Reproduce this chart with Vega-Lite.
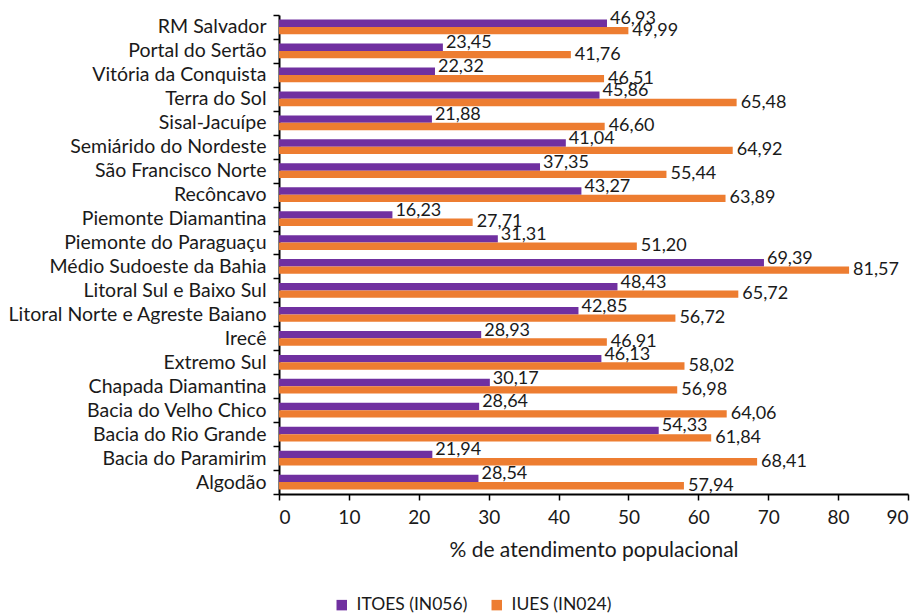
{
  "$schema": "https://vega.github.io/schema/vega-lite/v6.json",
  "width": 629,
  "height": 479,
  "autosize": {"type": "none"},
  "padding": {"left": 279, "top": 15, "right": 14, "bottom": 121},
  "config": {
    "locale": {"number": {"decimal": ",", "thousands": ".", "grouping": [3], "currency": ["R$", ""]}},
    "view": {"stroke": null},
    "font": "Lato",
    "text": {"font": "Lato"}
  },
  "data": {
    "values": [
      {"regiao": "RM Salvador", "serie": "ITOES (IN056)", "valor": 46.93},
      {"regiao": "RM Salvador", "serie": "IUES (IN024)", "valor": 49.99},
      {"regiao": "Portal do Sertão", "serie": "ITOES (IN056)", "valor": 23.45},
      {"regiao": "Portal do Sertão", "serie": "IUES (IN024)", "valor": 41.76},
      {"regiao": "Vitória da Conquista", "serie": "ITOES (IN056)", "valor": 22.32},
      {"regiao": "Vitória da Conquista", "serie": "IUES (IN024)", "valor": 46.51},
      {"regiao": "Terra do Sol", "serie": "ITOES (IN056)", "valor": 45.86},
      {"regiao": "Terra do Sol", "serie": "IUES (IN024)", "valor": 65.48},
      {"regiao": "Sisal-Jacuípe", "serie": "ITOES (IN056)", "valor": 21.88},
      {"regiao": "Sisal-Jacuípe", "serie": "IUES (IN024)", "valor": 46.60},
      {"regiao": "Semiárido do Nordeste", "serie": "ITOES (IN056)", "valor": 41.04},
      {"regiao": "Semiárido do Nordeste", "serie": "IUES (IN024)", "valor": 64.92},
      {"regiao": "São Francisco Norte", "serie": "ITOES (IN056)", "valor": 37.35},
      {"regiao": "São Francisco Norte", "serie": "IUES (IN024)", "valor": 55.44},
      {"regiao": "Recôncavo", "serie": "ITOES (IN056)", "valor": 43.27},
      {"regiao": "Recôncavo", "serie": "IUES (IN024)", "valor": 63.89},
      {"regiao": "Piemonte Diamantina", "serie": "ITOES (IN056)", "valor": 16.23},
      {"regiao": "Piemonte Diamantina", "serie": "IUES (IN024)", "valor": 27.71},
      {"regiao": "Piemonte do Paraguaçu", "serie": "ITOES (IN056)", "valor": 31.31},
      {"regiao": "Piemonte do Paraguaçu", "serie": "IUES (IN024)", "valor": 51.20},
      {"regiao": "Médio Sudoeste da Bahia", "serie": "ITOES (IN056)", "valor": 69.39},
      {"regiao": "Médio Sudoeste da Bahia", "serie": "IUES (IN024)", "valor": 81.57},
      {"regiao": "Litoral Sul e Baixo Sul", "serie": "ITOES (IN056)", "valor": 48.43},
      {"regiao": "Litoral Sul e Baixo Sul", "serie": "IUES (IN024)", "valor": 65.72},
      {"regiao": "Litoral Norte e Agreste Baiano", "serie": "ITOES (IN056)", "valor": 42.85},
      {"regiao": "Litoral Norte e Agreste Baiano", "serie": "IUES (IN024)", "valor": 56.72},
      {"regiao": "Irecê", "serie": "ITOES (IN056)", "valor": 28.93},
      {"regiao": "Irecê", "serie": "IUES (IN024)", "valor": 46.91},
      {"regiao": "Extremo Sul", "serie": "ITOES (IN056)", "valor": 46.13},
      {"regiao": "Extremo Sul", "serie": "IUES (IN024)", "valor": 58.02},
      {"regiao": "Chapada Diamantina", "serie": "ITOES (IN056)", "valor": 30.17},
      {"regiao": "Chapada Diamantina", "serie": "IUES (IN024)", "valor": 56.98},
      {"regiao": "Bacia do Velho Chico", "serie": "ITOES (IN056)", "valor": 28.64},
      {"regiao": "Bacia do Velho Chico", "serie": "IUES (IN024)", "valor": 64.06},
      {"regiao": "Bacia do Rio Grande", "serie": "ITOES (IN056)", "valor": 54.33},
      {"regiao": "Bacia do Rio Grande", "serie": "IUES (IN024)", "valor": 61.84},
      {"regiao": "Bacia do Paramirim", "serie": "ITOES (IN056)", "valor": 21.94},
      {"regiao": "Bacia do Paramirim", "serie": "IUES (IN024)", "valor": 68.41},
      {"regiao": "Algodão", "serie": "ITOES (IN056)", "valor": 28.54},
      {"regiao": "Algodão", "serie": "IUES (IN024)", "valor": 57.94}
    ]
  },
  "encoding": {
    "y": {
      "field": "regiao",
      "type": "nominal",
      "sort": null,
      "scale": {"paddingInner": 0, "paddingOuter": 0},
      "axis": {
        "title": null,
        "tickBand": "extent",
        "domainColor": "#000000",
        "domainWidth": 2,
        "tickColor": "#000000",
        "tickWidth": 1.5,
        "tickSize": 6,
        "labelFontSize": 19.5,
        "labelColor": "#1a1a1a",
        "labelPadding": 7,
        "labelLimit": 400
      }
    },
    "yOffset": {
      "field": "serie",
      "sort": ["ITOES (IN056)", "IUES (IN024)"],
      "scale": {"paddingInner": 0, "paddingOuter": 0.62}
    },
    "x": {
      "field": "valor",
      "type": "quantitative",
      "scale": {"domain": [0, 90]},
      "axis": {
        "title": "% de atendimento populacional",
        "values": [0, 10, 20, 30, 40, 50, 60, 70, 80, 90],
        "grid": false,
        "domainColor": "#000000",
        "domainWidth": 2,
        "tickColor": "#000000",
        "tickWidth": 1.5,
        "tickSize": 6,
        "labelFontSize": 19,
        "labelColor": "#1a1a1a",
        "labelPadding": 8,
        "titleFontSize": 21,
        "titleFontWeight": "normal",
        "titleColor": "#1a1a1a",
        "titlePadding": 12
      }
    }
  },
  "layer": [
    {
      "mark": {"type": "bar"},
      "encoding": {
        "color": {
          "field": "serie",
          "type": "nominal",
          "scale": {"domain": ["ITOES (IN056)", "IUES (IN024)"], "range": ["#7030A0", "#ED7D31"]},
          "legend": {
            "title": null,
            "orient": "none",
            "direction": "horizontal",
            "legendX": 54,
            "legendY": 581,
            "symbolType": "square",
            "symbolSize": 110,
            "symbolStrokeWidth": 0,
            "labelFontSize": 17.5,
            "labelColor": "#1a1a1a",
            "columnPadding": 20,
            "labelOffset": 6
          }
        }
      }
    },
    {
      "transform": [{"filter": "datum.serie == 'ITOES (IN056)'"}],
      "mark": {"type": "text", "align": "left", "baseline": "middle", "dx": 3, "dy": -4, "fontSize": 18, "color": "#1a1a1a"},
      "encoding": {"text": {"field": "valor", "type": "quantitative", "format": ".2f"}}
    },
    {
      "transform": [{"filter": "datum.serie == 'IUES (IN024)'"}],
      "mark": {"type": "text", "align": "left", "baseline": "middle", "dx": 4, "dy": 0, "fontSize": 18, "color": "#1a1a1a"},
      "encoding": {"text": {"field": "valor", "type": "quantitative", "format": ".2f"}}
    }
  ]
}
